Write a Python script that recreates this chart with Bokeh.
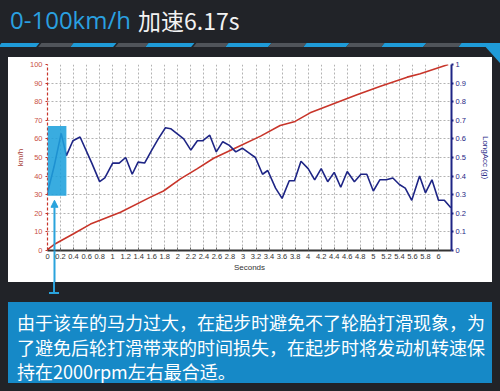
from bokeh.plotting import figure
from bokeh.layouts import column, row
from bokeh.models import (Range1d, LinearAxis, FixedTicker, BoxAnnotation,
                          Arrow, NormalHead, Div)
from bokeh.embed import file_html
from bokeh.resources import INLINE

# ---------------- data ----------------
seconds_speed = [0.0, 0.1, 0.4, 0.66, 1.12, 1.58, 1.78, 2.04, 2.30, 2.55, 2.86,
                 3.27, 3.57, 3.80, 4.03, 4.39, 4.75, 5.11, 5.52, 5.72, 6.15]
speed_kmh = [0.5, 3.2, 9.0, 14.2, 20.6, 28.7, 32.0, 38.5, 44.0, 49.6, 54.7,
             61.5, 67.2, 69.4, 74.0, 78.9, 83.7, 88.3, 93.2, 95.0, 100.0]

seconds_acc = [0.00, 0.10, 0.21, 0.29, 0.39, 0.50, 0.68, 0.80, 0.88, 1.00, 1.10,
               1.20, 1.30, 1.39, 1.49, 1.60, 1.70, 1.81, 1.89, 2.09, 2.20, 2.30,
               2.38, 2.49, 2.59, 2.69, 2.79, 2.89, 2.99, 3.09, 3.19, 3.30, 3.38,
               3.50, 3.60, 3.71, 3.79, 3.89, 4.00, 4.10, 4.20, 4.30, 4.40, 4.50,
               4.60, 4.71, 4.81, 4.90, 5.00, 5.10, 5.20, 5.30, 5.40, 5.49, 5.59,
               5.71, 5.80, 5.90, 6.00, 6.09, 6.19]
long_acc_g = [0.31, 0.45, 0.63, 0.51, 0.59, 0.61, 0.47, 0.37, 0.39, 0.47, 0.47,
              0.50, 0.41, 0.475, 0.47, 0.54, 0.60, 0.66, 0.655, 0.60, 0.54, 0.59,
              0.59, 0.62, 0.53, 0.585, 0.565, 0.53, 0.55, 0.525, 0.50, 0.41, 0.43,
              0.335, 0.28, 0.375, 0.375, 0.48, 0.44, 0.38, 0.44, 0.37, 0.42, 0.34,
              0.425, 0.37, 0.41, 0.41, 0.32, 0.38, 0.38, 0.39, 0.355, 0.335, 0.27,
              0.40, 0.31, 0.38, 0.27, 0.27, 0.23]

x_ticks = [0, 0.2, 0.4, 0.6, 0.8, 1, 1.2, 1.4, 1.6, 1.8, 2, 2.2, 2.4, 2.6, 2.8, 3,
           3.2, 3.4, 3.6, 3.8, 4, 4.2, 4.4, 4.6, 4.8, 5, 5.2, 5.4, 5.6, 5.8, 6]
x_tick_labels = ["0", "0.2", "0.4", "0.6", "0.8", "1", "1.2", "1.4", "1.6", "1.8",
                 "2", "2.2", "2.4", "2.6", "2.8", "3", "3.2", "3.4", "3.6", "3.8",
                 "4", "4.2", "4.4", "4.6", "4.8", "5", "5.2", "5.4", "5.6", "5.8", "6"]
speed_ticks = [0, 10, 20, 30, 40, 50, 60, 70, 80, 90, 100]
speed_tick_labels = ["0", "10", "20", "30", "40", "50", "60", "70", "80", "90", "100"]
acc_ticks = [0, 0.1, 0.2, 0.3, 0.4, 0.5, 0.6, 0.7, 0.8, 0.9, 1]
acc_tick_labels = ["0", "0.1", "0.2", "0.3", "0.4", "0.5", "0.6", "0.7", "0.8", "0.9", "1"]

highlight_seconds = [0, 0.29]
highlight_kmh = [29.5, 67]
arrow_second = 0.107
arrow_tip_kmh = 27

title_left = "0-100km/h"
title_right = "加速6.17s"
note_lines = ["由于该车的马力过大，在起步时避免不了轮胎打滑现象，为",
              "了避免后轮打滑带来的时间损失，在起步时将发动机转速保",
              "持在2000rpm左右最合适。"]

# ---------------- style ----------------
DARK = "#212328"
BLUE = "#1f9bd8"
BOXBLUE = "#1689c7"
GRAY = "#50545a"
RED = "#c8352a"
NAVY = "#1e2585"
ARROW = "#2aa3dc"
PAGE_W = 500
SIDE = 8
W = PAGE_W - 2 * SIDE
CHART_H = 225


def box(style, inner=""):
    return f'<div style="position:absolute;{style}">{inner}</div>'


# ---------------- top band (HTML) ----------------
TOP_H = 57
blue_segs = [(0, 38), (72, 115), (147, 193), (227, 270), (305, 348), (383, 425), (460, 490)]
gray_segs = [(40, 72), (117, 147), (195, 227), (270, 305), (348, 383), (425, 460)]
parts = []
for segs, col in ((blue_segs, BLUE), (gray_segs, GRAY)):
    for a, b in segs:
        parts.append(box(f"left:{a}px;top:43px;width:{b-a}px;height:3.5px;"
                         f"background:{col};transform:skewX(-40deg);"))
parts.append(box(f"left:482px;top:43px;width:0;height:0;"
                 f"border-top:20px solid {BLUE};border-left:18px solid transparent;"))
parts.append(box("left:10px;top:8px;white-space:nowrap;line-height:1;"
                 "font-family:'Open Sans';font-size:24px;color:#2aa0e0;", title_left))
parts.append(box("left:138px;top:9px;white-space:nowrap;line-height:1;"
                 "font-family:'Noto Sans CJK SC';font-size:23px;color:#f2f2f2;", title_right))
top_html = (f'<div style="position:relative;width:{PAGE_W}px;height:{TOP_H}px;background:{DARK};'
            f'overflow:hidden;">' + "".join(parts) + '</div>')
top = Div(text=top_html, width=PAGE_W, height=TOP_H, margin=0)

left_strip = Div(text=f'<div style="width:{SIDE}px;height:{CHART_H}px;background:{DARK};"></div>',
                 width=SIDE, height=CHART_H, margin=0)
right_strip = Div(text=(f'<div style="position:relative;width:{SIDE}px;height:{CHART_H}px;'
                        f'background:{DARK};overflow:hidden;">'
                        + box(f"left:-10px;top:-14px;width:0;height:0;border-top:20px solid {BLUE};"
                              f"border-left:18px solid transparent;") + '</div>'),
                  width=SIDE, height=CHART_H, margin=0)

# ---------------- chart ----------------
FL, FR, FT, FB = 39, 41, 7, 32
p = figure(width=W, height=CHART_H, x_range=Range1d(0, 6.2), y_range=Range1d(0, 100),
           output_backend="svg", toolbar_location=None,
           min_border_left=FL, min_border_right=FR, min_border_top=FT, min_border_bottom=FB,
           border_fill_color="white", background_fill_color="white",
           outline_line_color=None, margin=0)
p.extra_y_ranges = {"acc": Range1d(0, 1)}

p.xgrid.ticker = FixedTicker(ticks=x_ticks)
p.ygrid.ticker = FixedTicker(ticks=speed_ticks)
for g in (p.xgrid[0], p.ygrid[0]):
    g.grid_line_color = "#b3b3b3"
    g.grid_line_dash = "2 2"
    g.grid_line_width = 1

tick_font = "Liberation Sans"
STEM = FB  # the arrow's stem runs through the whole bottom border as a long minor tick
xa = p.xaxis[0]
xa.ticker = FixedTicker(ticks=x_ticks, minor_ticks=[arrow_second])
xa.major_label_overrides = dict(zip(x_ticks, x_tick_labels))
xa.axis_label = "Seconds"
xa.axis_label_text_font = tick_font
xa.axis_label_text_font_size = "8px"
xa.axis_label_text_font_style = "normal"
xa.axis_label_text_color = "#333333"
xa.axis_label_standoff = 1
xa.major_label_text_font = tick_font
xa.major_label_text_font_size = "7.5px"
xa.major_label_text_color = "#333333"
xa.major_label_standoff = 3 - STEM
xa.axis_line_color = "#333333"
xa.axis_line_width = 2
xa.major_tick_in = 3
xa.major_tick_out = 0
xa.major_tick_line_color = "#666666"
xa.minor_tick_in = 0
xa.minor_tick_out = STEM
xa.minor_tick_line_color = ARROW
xa.minor_tick_line_width = 2

ya = p.yaxis[0]
ya.ticker = FixedTicker(ticks=speed_ticks)
ya.major_label_overrides = dict(zip(speed_ticks, speed_tick_labels))
ya.axis_label = "km/h"
ya.axis_label_text_font = tick_font
ya.axis_label_text_font_size = "8px"
ya.axis_label_text_font_style = "normal"
ya.axis_label_text_color = "#a84038"
ya.axis_label_standoff = 2
ya.major_label_text_font = tick_font
ya.major_label_text_font_size = "7.5px"
ya.major_label_text_color = "#c85048"
ya.major_label_standoff = 3
ya.axis_line_color = RED
ya.axis_line_dash = "3 2"
ya.axis_line_width = 1.2
ya.major_tick_in = 0
ya.major_tick_out = 2
ya.major_tick_line_color = RED
ya.minor_tick_line_color = None

ra = LinearAxis(y_range_name="acc", ticker=FixedTicker(ticks=acc_ticks))
ra.major_label_overrides = dict(zip(acc_ticks, acc_tick_labels))
ra.axis_label = "LongAcc (g)"
ra.axis_label_text_font = tick_font
ra.axis_label_text_font_size = "8px"
ra.axis_label_text_font_style = "normal"
ra.axis_label_text_color = NAVY
ra.axis_label_standoff = 12
ra.major_label_text_font = tick_font
ra.major_label_text_font_size = "7.5px"
ra.major_label_text_color = NAVY
ra.major_label_standoff = 2
ra.axis_line_color = NAVY
ra.axis_line_width = 2
ra.major_tick_in = 0
ra.major_tick_out = 2
ra.major_tick_line_color = NAVY
ra.major_tick_line_width = 2
ra.minor_tick_line_color = None
p.add_layout(ra, "right")

p.line(seconds_speed, speed_kmh, line_color=RED, line_width=1.6)
p.line(seconds_acc, long_acc_g, y_range_name="acc", line_color=NAVY, line_width=1.6)

p.add_layout(BoxAnnotation(left=highlight_seconds[0], right=highlight_seconds[1],
                           bottom=highlight_kmh[0], top=highlight_kmh[1],
                           fill_color="#1ea0dc", fill_alpha=0.88, line_color=None))
p.add_layout(Arrow(x_start=arrow_second, y_start=0, x_end=arrow_second, y_end=arrow_tip_kmh,
                   line_color=ARROW, line_width=2,
                   end=NormalHead(size=7, fill_color=ARROW, line_color=ARROW)))

# ---------------- note box (HTML) ----------------
BOT_H = 391 - TOP_H - CHART_H
lines_html = "".join(f'<div style="white-space:nowrap;">{t}</div>' for t in note_lines)
bot_html = (f'<div style="position:relative;width:{PAGE_W}px;height:{BOT_H}px;background:{DARK};'
            f'overflow:hidden;">'
            + box(f"left:53px;top:0px;width:2px;height:12px;background:{ARROW};")
            + box(f"left:49px;top:10px;width:10px;height:2px;background:{ARROW};")
            + box(f"left:8px;top:20px;width:{W}px;height:81px;background:{BOXBLUE};"
                  f"box-sizing:border-box;padding:8px 0 0 9px;color:white;"
                  f"font-family:'Noto Sans CJK SC';font-size:18px;line-height:24.5px;", lines_html)
            + '</div>')
bot = Div(text=bot_html, width=PAGE_W, height=BOT_H, margin=0)

layout = column(top, row(left_strip, p, right_strip, spacing=0), bot, spacing=0)
open("out.html", "w").write(file_html(layout, INLINE))
